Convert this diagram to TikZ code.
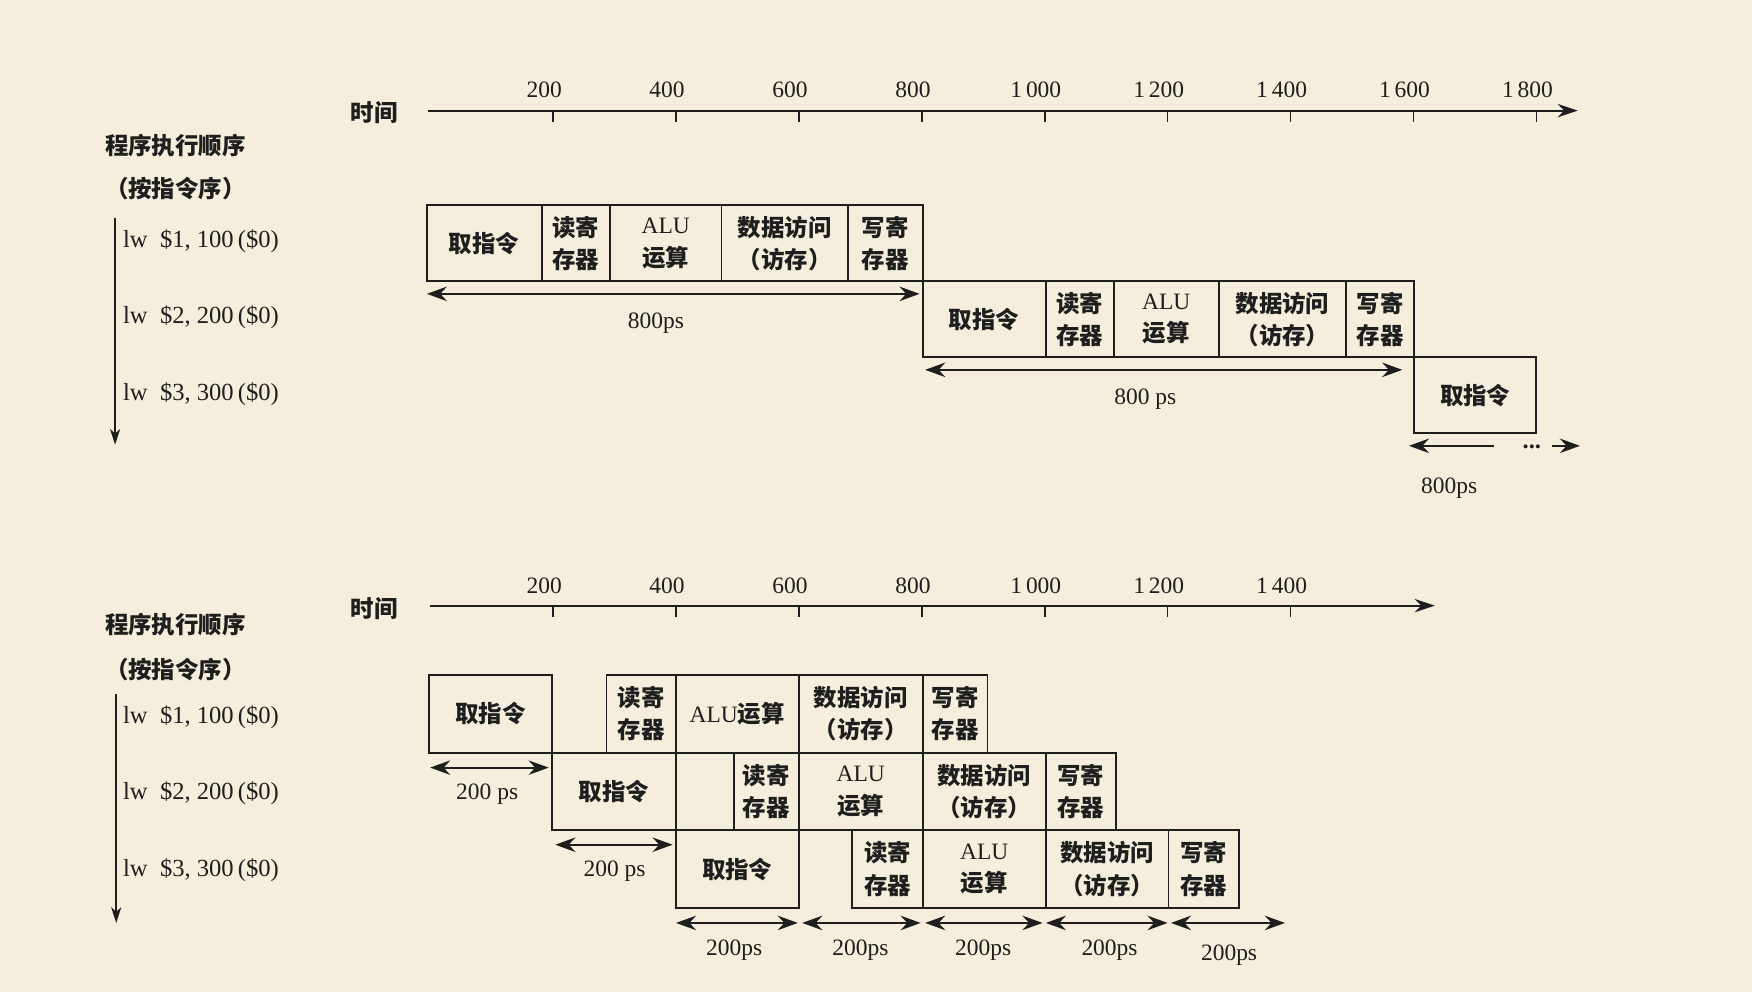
\documentclass[tikz,border=0pt]{standalone}
\usepackage{fontspec}
\setmainfont{Liberation Serif}
\newfontfamily\cjk{Noto Sans CJK SC}
\usetikzlibrary{arrows.meta}
\definecolor{bg}{HTML}{F5EEDC}
\definecolor{ink}{HTML}{1E1E1E}
\newcommand\cellfont{\fontsize{21}{29}\selectfont}
\newcommand\zh[1]{{\cjk\bfseries #1}}
\newcommand\cellat[6]{\node[cell, minimum width={#4-#2}, minimum height={#5-#3}] (#1) at (#2,#3) {#6};}
\pgfarrowsdeclarealias{<<}{>>}{<}{>}
\tikzset{
  bighead/.tip={Stealth[length=18pt,width=13pt,inset=6pt]},
  axhead/.tip={Stealth[length=18pt,width=12pt,inset=6pt]},
  ordhead/.tip={Stealth[length=14pt,width=9pt,inset=4pt]}
}
\begin{document}
\begin{tikzpicture}[x=1pt,y=-1pt,
  cell/.style={draw=ink, line width=1.6pt, inner sep=0pt, align=center, font=\cellfont, anchor=north west, text=ink},
  dim/.style={bighead-bighead, line width=1.6pt, draw=ink},
  onearrow/.style={-bighead, line width=1.6pt, draw=ink},
  axisline/.style={-axhead, line width=1.6pt, draw=ink},
  tick/.style={line width=1.4pt, draw=ink},
  num/.style={font=\fontsize{21}{24}\selectfont, text=ink, inner sep=0pt},
  lab/.style={font=\fontsize{21}{24}\selectfont, text=ink, inner sep=0pt},
  instr/.style={font=\fontsize{22}{24}\selectfont, text=ink, inner sep=0pt, anchor=west},
  order/.style={-ordhead, line width=1.5pt, draw=ink}
]
\fill[bg] (0,0) rectangle (1568,888);
\useasboundingbox (0,0) rectangle (1568,888);

% ================= TOP DIAGRAM =================
\coordinate (ta0) at (383,99);
\coordinate (ta1) at (1412,99);
\draw[axisline] (ta0) -- (ta1);
\foreach \i/\t in {1/200,2/400,3/600,4/800,5/1\,000,6/1\,200,7/1\,400,8/1\,600,9/1\,800}{
  \coordinate (tt\i) at ({385+110*\i},99);
  \draw[tick] (tt\i) -- ++(0,10);
  \node[num] (tn\i) at ({377+110*\i},80) {\t};
}
\node[lab] (tsj) at (335,101) {\zh{时间}};
\node[lab] (tord1) at (157,130) {\zh{程序执行顺序}};
\node[lab] (tord2) at (157,169) {\zh{（按指令序）}};
\coordinate (tv0) at (103,195);
\coordinate (tv1) at (103,398);
\draw[order] (tv0) -- (tv1);
\node[instr] (ti1) at (110,216) {lw\ \ \$1,\ 100\,(\$0)};
\node[instr] (ti2) at (110,284) {lw\ \ \$2,\ 200\,(\$0)};
\node[instr] (ti3) at (110,353) {lw\ \ \$3,\ 300\,(\$0)};

% row 1
\cellat{a1}{381}{183}{484}{251}{\zh{取指令}}
\cellat{a2}{484}{183}{545}{251}{\zh{读寄}\\\zh{存器}}
\cellat{a3}{545}{183}{645}{251}{ALU\\\zh{运算}}
\cellat{a4}{645}{183}{758}{251}{\zh{数据访问}\\\zh{（访存）}}
\cellat{a5}{758}{183}{825}{251}{\zh{写寄}\\\zh{存器}}
% row 2
\cellat{b1}{825}{251}{935}{319}{\zh{取指令}}
\cellat{b2}{935}{251}{996}{319}{\zh{读寄}\\\zh{存器}}
\cellat{b3}{996}{251}{1090}{319}{ALU\\\zh{运算}}
\cellat{b4}{1090}{251}{1204}{319}{\zh{数据访问}\\\zh{（访存）}}
\cellat{b5}{1204}{251}{1265}{319}{\zh{写寄}\\\zh{存器}}
% row 3
\cellat{c1}{1265}{319}{1374}{387}{\zh{取指令}}

\coordinate (da0) at (382,263);
\coordinate (da1) at (823,263);
\draw[dim] (da0) -- (da1);
\node[num] (dla) at (587,289) {800ps};
\coordinate (db0) at (828,331);
\coordinate (db1) at (1255,331);
\draw[dim] (db0) -- (db1);
\node[num] (dlb) at (1025,357) {800 ps};
\coordinate (dc0) at (1337,399);
\coordinate (dc1) at (1261,399);
\draw[onearrow] (dc0) -- (dc1);
\node[num, font=\fontsize{22}{24}\selectfont\bfseries] (dots) at (1371,400) {...};
\coordinate (dc2) at (1389,399);
\coordinate (dc3) at (1414,399);
\draw[onearrow] (dc2) -- (dc3);
\node[num] (dlc) at (1297,437) {800ps};

% ================= BOTTOM DIAGRAM =================
\coordinate (ba0) at (385,542);
\coordinate (ba1) at (1284,542);
\draw[axisline] (ba0) -- (ba1);
\foreach \i/\t in {1/200,2/400,3/600,4/800,5/1\,000,6/1\,200,7/1\,400}{
  \coordinate (bt\i) at ({385+110*\i},542);
  \draw[tick] (bt\i) -- ++(0,10);
  \node[num] (bn\i) at ({377+110*\i},524) {\t};
}
\node[lab] (bsj) at (335,545) {\zh{时间}};
\node[lab] (bord1) at (157,559) {\zh{程序执行顺序}};
\node[lab] (bord2) at (157,599) {\zh{（按指令序）}};
\coordinate (bv0) at (104,621);
\coordinate (bv1) at (104,826);
\draw[order] (bv0) -- (bv1);
\node[instr] (bi1) at (110,642) {lw\ \ \$1,\ 100\,(\$0)};
\node[instr] (bi2) at (110,710) {lw\ \ \$2,\ 200\,(\$0)};
\node[instr] (bi3) at (110,779) {lw\ \ \$3,\ 300\,(\$0)};

% row 1
\cellat{p1}{383}{603}{493}{673}{\zh{取指令}}
\cellat{p2}{542}{603}{604}{673}{\zh{读寄}\\\zh{存器}}
\cellat{p3}{604}{603}{714}{673}{ALU\zh{运算}}
\cellat{p4}{714}{603}{825}{673}{\zh{数据访问}\\\zh{（访存）}}
\cellat{p5}{825}{603}{883}{673}{\zh{写寄}\\\zh{存器}}
% row 2
\cellat{q1}{493}{673}{604}{742}{\zh{取指令}}
\cellat{q2}{656}{673}{714}{742}{\zh{读寄}\\\zh{存器}}
\cellat{q3}{714}{673}{825}{742}{ALU\\\zh{运算}}
\cellat{q4}{825}{673}{935}{742}{\zh{数据访问}\\\zh{（访存）}}
\cellat{q5}{935}{673}{998}{742}{\zh{写寄}\\\zh{存器}}
% row 3
\cellat{r1}{604}{742}{714}{812}{\zh{取指令}}
\cellat{r2}{762}{742}{825}{812}{\zh{读寄}\\\zh{存器}}
\cellat{r3}{825}{742}{935}{812}{ALU\\\zh{运算}}
\cellat{r4}{935}{742}{1045}{812}{\zh{数据访问}\\\zh{（访存）}}
\cellat{r5}{1045}{742}{1108}{812}{\zh{写寄}\\\zh{存器}}

\coordinate (ea0) at (385,687);
\coordinate (ea1) at (491,687);
\draw[dim] (ea0) -- (ea1);
\node[num] (ela) at (436,711) {200 ps};
\coordinate (eb0) at (497,756);
\coordinate (eb1) at (602,756);
\draw[dim] (eb0) -- (eb1);
\node[num] (elb) at (550,780) {200 ps};
\foreach \i/\a/\b/\lx/\ly in {1/605/714/657/850, 2/718/824/770/850, 3/828/933/880/850, 4/936/1045/993/850, 5/1048/1150/1100/855}{
  \coordinate (ec\i a) at (\a,826);
  \coordinate (ec\i b) at (\b,826);
  \draw[dim] (ec\i a) -- (ec\i b);
  \node[num] (ecl\i) at (\lx,\ly) {200ps};
}
\end{tikzpicture}
\end{document}
